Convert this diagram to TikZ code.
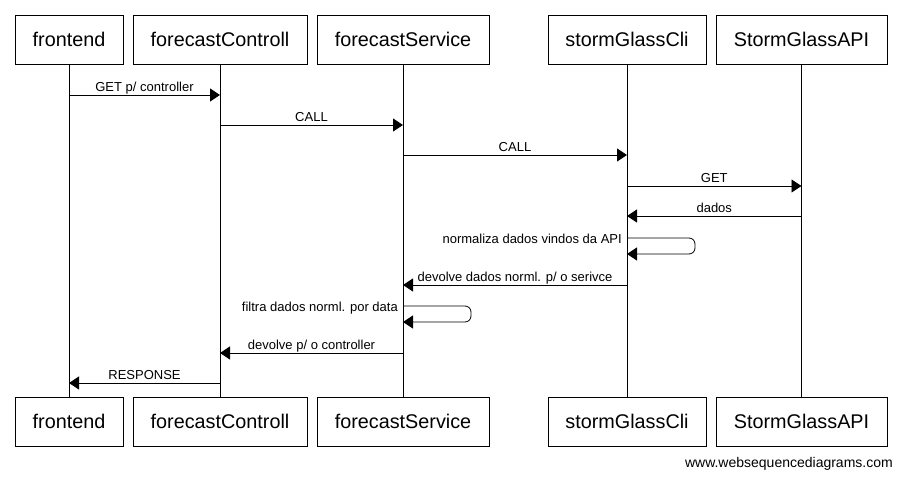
\documentclass[tikz,border=0pt]{standalone}
\usepackage{fontspec}
\setmainfont{Liberation Sans}
\usetikzlibrary{arrows.meta}

\tikzset{
  party/.style={draw, line width=.8pt, minimum height=49pt, inner sep=0pt,
    font=\fontsize{19.8}{20}\selectfont},
  life/.style={line width=.8pt},
  msg/.style={line width=.8pt, -{Triangle[length=10pt, width=13pt]}},
  msglbl/.style={font=\fontsize{13}{14}\selectfont, anchor=base, inner sep=0pt, yshift=4pt},
  selflbl/.style={font=\fontsize{13}{14}\selectfont, anchor=base east, inner sep=0pt}
}

\begin{document}
\begin{tikzpicture}[x=1pt, y=-1pt]
  \useasboundingbox (0,0) rectangle (903,480);

  % participants, top and bottom
  \foreach \name/\txt/\x/\w in {fe/frontend/69/108, fc/forecastControll/220/174,
      fs/forecastService/403/172, sg/stormGlassCli/627/158, api/StormGlassAPI/801.5/171}{
    \node[party, minimum width=\w pt] (\name-top) at (\x, 39.5) {\txt};
    \node[party, minimum width=\w pt] (\name-bot) at (\x, 421.5) {\txt};
    \draw[life] (\name-top) -- (\name-bot);
  }

  % message rows
  \coordinate (m1) at (0,95);
  \coordinate (m2) at (0,125);
  \coordinate (m3) at (0,155);
  \coordinate (m4) at (0,186);
  \coordinate (m5) at (0,216);
  \coordinate (s1a) at (0,238);
  \coordinate (s1b) at (0,254);
  \coordinate (m6) at (0,285);
  \coordinate (s2a) at (0,306);
  \coordinate (s2b) at (0,322);
  \coordinate (m7) at (0,353);
  \coordinate (m8) at (0,383);

  \draw[msg] (fe-top |- m1) -- (fc-top |- m1) node[msglbl, midway] {GET p/ controller};
  \draw[msg] (fc-top |- m2) -- (fs-top |- m2) node[msglbl, midway] {CALL};
  \draw[msg] (fs-top |- m3) -- (sg-top |- m3) node[msglbl, midway] {CALL};
  \draw[msg] (sg-top |- m4) -- (api-top |- m4) node[msglbl, midway] {GET};
  \draw[msg] (api-top |- m5) -- (sg-top |- m5) node[msglbl, midway] {dados};

  % self call on stormGlassCli
  \draw[msg, rounded corners=6pt] (sg-top |- s1a) -- ++(68,0) |- (sg-top |- s1b);
  \node[selflbl] (s1lbl) at ([xshift=-5pt, yshift=-5pt]sg-top |- s1a)
    {normaliza dados vindos da API};

  \draw[msg] (sg-top |- m6) -- (fs-top |- m6) node[msglbl, midway] {devolve dados norml. p/ o serivce};

  % self call on forecastService
  \draw[msg, rounded corners=6pt] (fs-top |- s2a) -- ++(68,0) |- (fs-top |- s2b);
  \node[selflbl] (s2lbl) at ([xshift=-5pt, yshift=-5pt]fs-top |- s2a)
    {filtra dados norml. por data};

  \draw[msg] (fs-top |- m7) -- (fc-top |- m7) node[msglbl, midway] {devolve p/ o controller};
  \draw[msg] (fc-top |- m8) -- (fe-top |- m8) node[msglbl, midway] {RESPONSE};

  \node[font=\fontsize{14}{15}\selectfont, anchor=base east, inner sep=0pt] (web) at (893,467)
    {www.websequencediagrams.com};
\end{tikzpicture}
\end{document}
